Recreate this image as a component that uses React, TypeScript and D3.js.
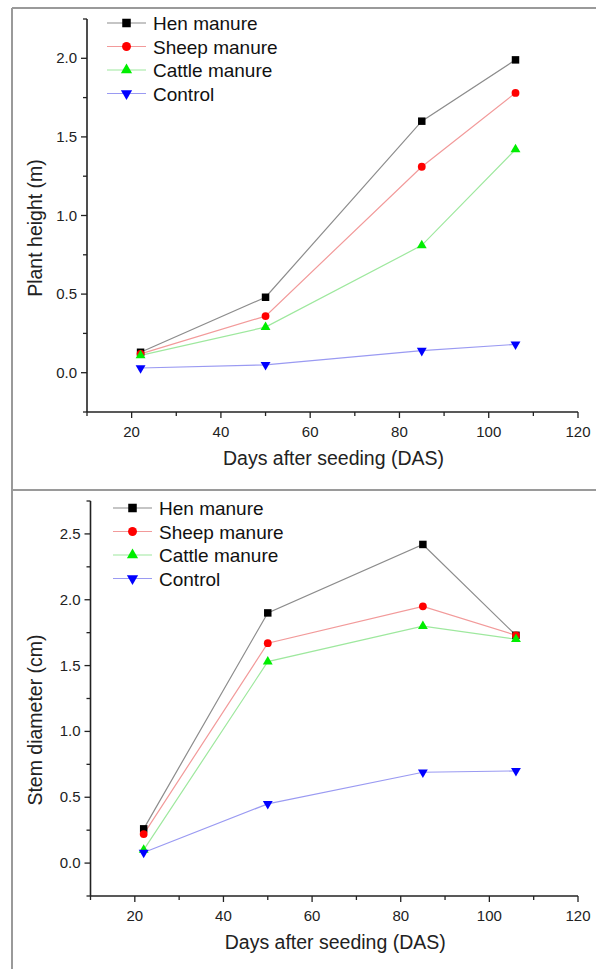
import React from 'react';
import * as d3 from 'd3';

const days = [22, 50, 85, 106];

// plant height (m)
const heightHen = [0.13, 0.48, 1.6, 1.99];
const heightSheep = [0.12, 0.36, 1.31, 1.78];
const heightCattle = [0.11, 0.29, 0.81, 1.42];
const heightControl = [0.03, 0.05, 0.14, 0.18];

// stem diameter (cm)
const stemHen = [0.26, 1.9, 2.42, 1.73];
const stemSheep = [0.22, 1.67, 1.95, 1.73];
const stemCattle = [0.1, 1.53, 1.8, 1.7];
const stemControl = [0.08, 0.45, 0.69, 0.7];

const seriesNames = ['Hen manure', 'Sheep manure', 'Cattle manure', 'Control'];
const lineColors = ['#8c8c8c', '#f29a9a', '#9ee89e', '#9a9af2'];
const markerColors = ['#000000', '#ff0000', '#00ee00', '#0000ff'];
const markerTypes = [d3.symbolSquare, d3.symbolCircle, d3.symbolTriangle, d3.symbolTriangle];
const markerSizes = [56, 48, 42, 42];
const markerRotate = [0, 0, 0, 180];

const xTicks = [20, 40, 60, 80, 100, 120];
const FONT = 'Liberation Sans, Arial, sans-serif';

type PanelProps = {
  top: number;
  series: number[][];
  yDomain: [number, number];
  yRange: [number, number];
  xRange: [number, number];
  yMajor: number[];
  yMinor: number[];
  yTitle: string;
  yTitleY: number;
  legendX: number;
  legendY: number;
  legendStep: number;
};

const Panel = (p: PanelProps) => {
  const x = d3.scaleLinear().domain([10, 120]).range(p.xRange);
  const y = d3.scaleLinear().domain(p.yDomain).range(p.yRange);
  const x0 = p.xRange[0];
  const yBase = p.yRange[0];
  const line = d3.line<number>().x((d, i) => x(days[i])).y(d => y(d));
  const xMinor = d3.range(10, 121, 10);

  return (
    <g>
      {/* series lines */}
      {p.series.map((s, k) => (
        <path key={'l' + k} d={line(s) || ''} fill="none" stroke={lineColors[k]} strokeWidth={1.2} />
      ))}
      {/* markers */}
      {p.series.map((s, k) =>
        s.map((v, i) => (
          <path
            key={'m' + k + '-' + i}
            d={d3.symbol().type(markerTypes[k]).size(markerSizes[k])() || ''}
            transform={`translate(${x(days[i])},${y(v)}) rotate(${markerRotate[k]})`}
            fill={markerColors[k]}
          />
        ))
      )}
      {/* axes */}
      <line x1={x0} x2={p.xRange[1]} y1={yBase} y2={yBase} stroke="#222" strokeWidth={1.6} />
      <line x1={x0} x2={x0} y1={p.yRange[1]} y2={yBase} stroke="#222" strokeWidth={1.6} />
      {xMinor.map(t => (
        <line key={'xt' + t} x1={x(t)} x2={x(t)} y1={yBase} y2={yBase + (t % 20 === 0 ? 6 : 4)} stroke="#222" strokeWidth={1.3} />
      ))}
      {xTicks.map(t => (
        <text key={'xl' + t} x={x(t)} y={yBase + 25} textAnchor="middle" fontSize={15} fontFamily={FONT} fill="#222">
          {t}
        </text>
      ))}
      {p.yMinor.map(t => (
        <line key={'yt' + t} x1={x0} x2={x0 - (p.yMajor.includes(t) ? 6 : 4)} y1={y(t)} y2={y(t)} stroke="#222" strokeWidth={1.3} />
      ))}
      {p.yMajor.map(t => (
        <text key={'yl' + t} x={x0 - 10} y={y(t) + 5} textAnchor="end" fontSize={15} fontFamily={FONT} fill="#222">
          {d3.format('.1f')(t)}
        </text>
      ))}
      <text x={(p.xRange[0] + p.xRange[1]) / 2 + 1} y={yBase + 53} textAnchor="middle" fontSize={19.5} fontFamily={FONT} fill="#222">
        Days after seeding (DAS)
      </text>
      <text
        transform={`translate(${42},${p.yTitleY}) rotate(-90)`}
        textAnchor="middle"
        fontSize={19.5}
        fontFamily={FONT}
        fill="#222"
      >
        {p.yTitle}
      </text>
      {/* legend */}
      {seriesNames.map((name, k) => {
        const ly = p.legendY + k * p.legendStep;
        return (
          <g key={'lg' + k}>
            <line x1={p.legendX} x2={p.legendX + 39} y1={ly} y2={ly} stroke={lineColors[k]} strokeWidth={1.2} />
            <path
              d={d3.symbol().type(markerTypes[k]).size(markerSizes[k] * 1.3)() || ''}
              transform={`translate(${p.legendX + 19.5},${ly}) rotate(${markerRotate[k]})`}
              fill={markerColors[k]}
            />
            <text x={p.legendX + 46} y={ly + 7} fontSize={19} fontFamily={FONT} fill="#111">
              {name}
            </text>
          </g>
        );
      })}
    </g>
  );
};

export default function App() {
  return (
    <svg width={596} height={969} style={{ position: 'absolute', left: 0, top: 0, background: '#fff' }}>
      <rect x={0} y={0} width={596} height={969} fill="#fff" />
      {/* frame */}
      <line x1={12} x2={596} y1={8} y2={8} stroke="#9a9a9a" strokeWidth={2} />
      <line x1={12} x2={12} y1={8} y2={969} stroke="#9a9a9a" strokeWidth={2} />
      <line x1={12} x2={596} y1={490} y2={490} stroke="#9a9a9a" strokeWidth={2} />
      <Panel
        top={8}
        series={[heightHen, heightSheep, heightCattle, heightControl]}
        yDomain={[-0.25, 2.25]}
        yRange={[412, 19]}
        xRange={[87, 578]}
        yMajor={[0, 0.5, 1, 1.5, 2]}
        yMinor={d3.range(-0.25, 2.26, 0.25).map(v => Math.round(v * 100) / 100)}
        yTitle="Plant height (m)"
        yTitleY={228}
        legendX={107}
        legendY={23}
        legendStep={23.5}
      />
      <Panel
        top={490}
        series={[stemHen, stemSheep, stemCattle, stemControl]}
        yDomain={[-0.25, 2.75]}
        yRange={[896, 501]}
        xRange={[90.5, 578]}
        yMajor={[0, 0.5, 1, 1.5, 2, 2.5]}
        yMinor={d3.range(-0.25, 2.76, 0.25).map(v => Math.round(v * 100) / 100)}
        yTitle="Stem diameter (cm)"
        yTitleY={720}
        legendX={113}
        legendY={508}
        legendStep={23.5}
      />
    </svg>
  );
}
